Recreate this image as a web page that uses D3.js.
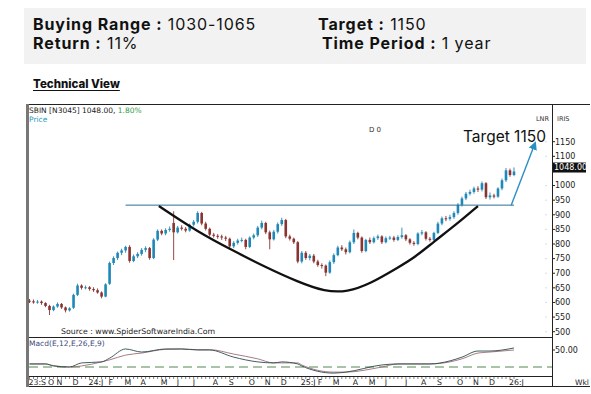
<!DOCTYPE html>
<html>
<head>
<meta charset="utf-8">
<script src="https://cdn.jsdelivr.net/npm/d3@7"></script>
<style>
  body { margin: 0; background: #fff; }
  svg { display: block; }
</style>
</head>
<body>
<div id="chart"></div>
<script>
// --- data (weekly SBIN candles) ---
const startWeek = new Date(2023, 8, 18);
const opens = [606,604,600,603,598,588,574,586,595,583,
  573,582,626,658,650,652,646,642,634,620,
  664,735,752,770,778,790,742,758,766,780,
  786,752,815,845,836,848,872,840,856,852,
  846,866,876,906,870,852,832,828,826,822,
  818,792,804,812,814,790,822,830,856,872,
  840,816,842,868,882,826,818,806,740,770,
  752,760,740,728,726,702,738,762,788,782,
  772,806,838,822,776,814,806,820,826,806,
  820,822,814,824,830,816,804,800,836,840,
  818,814,838,870,888,886,892,906,934,956,
  972,978,990,986,1008,960,966,962,990,1018,
  1052,1036];
const closes = [604,600,603,598,588,574,586,595,583,573,
  580,626,658,650,652,646,642,634,620,662,
  735,752,770,778,790,742,758,766,780,786,
  752,815,845,836,848,852,840,856,852,846,
  866,876,906,870,852,832,828,826,822,818,
  792,804,812,814,790,822,830,856,872,840,
  816,842,868,882,826,818,806,740,770,752,
  760,740,728,726,702,738,762,788,782,772,
  806,838,822,776,814,806,820,826,806,820,
  822,814,824,830,816,804,800,836,840,818,
  814,838,870,888,886,892,906,934,956,972,
  978,990,986,1008,960,966,962,990,1018,1052,
  1036,1048];
const highs = [612,610,608,607,601,592,590,600,598,586,
  584,630,664,662,658,656,652,648,638,666,
  740,758,774,784,794,796,764,772,786,792,
  790,820,850,850,854,860,912,862,864,858,
  870,882,912,910,876,856,838,834,832,828,
  822,810,818,822,818,826,836,862,880,876,
  846,848,874,890,886,832,822,810,776,776,
  766,766,746,734,730,744,768,794,796,788,
  812,850,842,826,818,822,826,832,830,826,
  828,828,830,856,834,820,810,840,848,844,
  824,842,876,894,896,900,912,940,962,978,
  986,996,998,1014,1012,976,972,994,1024,1060,
  1058,1062];
const lows = [598,596,596,592,584,557,570,582,578,566,
  569,578,622,644,645,640,636,630,614,618,
  660,728,745,762,770,736,738,752,760,772,
  746,748,810,830,830,842,745,836,846,840,
  842,860,870,864,846,826,822,818,814,810,
  786,786,798,806,782,786,816,824,850,834,
  782,812,836,862,820,812,800,734,734,746,
  744,734,722,716,690,698,732,758,776,764,
  768,800,816,770,772,800,802,814,800,802,
  814,808,810,818,810,798,794,796,830,812,
  808,810,834,864,878,880,886,900,928,950,
  966,972,978,980,954,952,956,958,984,1012,
  1030,1032];

// MACD panel, read at selected weeks
const macdWeeks  = [0,4,6,10,13,18,20,24,28,34,38,42,45,51,57,61,63,67,68,76,79,88,92,100,105,108,112,115,121];
const macdLine   = [9,9,3,0,12,15,26,53,44,53,53,50,50,29,15,12,15,9,3,-18,-15,6,9,9,18,29,47,47,56];
const signalLine = [9,9,4,0,3,15,21,35,41,52,53,51,51,38,24,12,12,12,6,-15,-15,0,9,9,15,24,41,44,50];

const priceTicks = [1150,1100,1000,950,900,850,800,750,700,650,600,550,500];
const monthNames = ["J","F","M","A","M","J","J","A","S","O","N","D"];

// annotations (week index, price)
const resistance = { from: 24, to: 121, value: 933 };
const cupPoints = [[32.3,930],[42.4,838],[50.6,779],[58.9,721],[67.1,670],[73.8,637],[79.4,636],[85.1,664],[91.8,718],[96,752],[101,808],[106.5,866],[112,930]];
const targetArrow = { from: [120.3, 933], to: [126.3, 1146] };

// --- layout ---
const W = 591, H = 394;
const frame = { left: 27, top: 104, axisX: 552, right: 590, mainBottom: 337, macdBottom: 376, bottom: 386 };
const font = "'DejaVu Sans', Verdana, sans-serif";
const headFont = "Inter, 'Open Sans', sans-serif";
const blue = "#1f88b8", red = "#8a3330";

const svg = d3.select("#chart").append("svg")
  .attr("width", W).attr("height", H);

// header box
svg.append("rect").attr("x", 24).attr("y", 8).attr("width", 562).attr("height", 56).attr("fill", "#f2f2f2");

function headLine(x, y, bold, normal) {
  const t = svg.append("text").attr("x", x).attr("y", y)
    .style("font-family", headFont).style("font-size", "16px").style("letter-spacing", "0.9px").attr("fill", "#111");
  t.append("tspan").style("font-weight", 700).text(bold);
  t.append("tspan").style("font-weight", 400).text(normal);
}
headLine(33, 30, "Buying Range :", " 1030-1065");
headLine(318, 30, "Target :", "  1150");
headLine(33, 49, "Return :", " 11%");
headLine(322, 49, "Time Period :", " 1 year");

const tv = svg.append("text").attr("x", 33).attr("y", 88)
  .style("font-family", headFont).style("font-size", "11.5px").style("font-weight", 800)
  .attr("fill", "#111").text("Technical View");
const tvw = tv.node().getComputedTextLength();
svg.append("line").attr("x1", 33).attr("x2", 33 + tvw).attr("y1", 90.5).attr("y2", 90.5)
  .attr("stroke", "#111").attr("stroke-width", 1.2);

// --- scales ---
const n = closes.length;
const x = d3.scaleLinear().domain([0, n - 1]).range([29.5, 514]);
const y = d3.scaleLinear().domain([500, 1150]).range([331.7, 141.7]);
const yM = d3.scaleLinear().domain([0, 50]).range([367, 350]);

// --- frame ---
const fr = svg.append("g").attr("stroke", "#222").attr("stroke-width", 1).attr("fill", "none");
fr.append("line").attr("x1", frame.left).attr("x2", frame.right).attr("y1", frame.top + 0.5).attr("y2", frame.top + 0.5);
fr.append("line").attr("x1", frame.left).attr("x2", frame.right).attr("y1", frame.bottom + 0.5).attr("y2", frame.bottom + 0.5);
fr.append("line").attr("x1", frame.left).attr("x2", frame.axisX).attr("y1", frame.mainBottom + 0.5).attr("y2", frame.mainBottom + 0.5);
fr.append("line").attr("x1", frame.left).attr("x2", frame.axisX).attr("y1", frame.macdBottom + 0.5).attr("y2", frame.macdBottom + 0.5);
fr.append("line").attr("x1", frame.axisX + 0.5).attr("x2", frame.axisX + 0.5).attr("y1", frame.top).attr("y2", frame.bottom);
svg.append("line").attr("x1", frame.left + 0.5).attr("x2", frame.left + 0.5).attr("y1", frame.top).attr("y2", frame.bottom + 1)
  .attr("stroke", "#777").attr("stroke-width", 3);

// --- titles inside ---
const t1 = svg.append("text").attr("x", 29).attr("y", 113).style("font-family", font).style("font-size", "7.5px").attr("fill", "#222");
t1.append("tspan").text("SBIN [N3045] 1048.00, ");
t1.append("tspan").attr("fill", "#3a9a4a").text(" 1.80%");
svg.append("text").attr("x", 29).attr("y", 122).style("font-family", font).style("font-size", "7.5px").attr("fill", "#2a9ab8").text("Price");
svg.append("text").attr("x", 369).attr("y", 132).style("font-family", font).style("font-size", "7px").attr("fill", "#333").text("D 0");
svg.append("text").attr("x", 536).attr("y", 121).style("font-family", font).style("font-size", "6.5px").attr("fill", "#333").text("LNR");
svg.append("text").attr("x", 557).attr("y", 121).style("font-family", font).style("font-size", "6.5px").attr("fill", "#333").text("IRIS");

// --- price axis ---
const ax = svg.append("g").style("font-family", font).style("font-size", "8px");
priceTicks.forEach(v => {
  ax.append("line").attr("x1", frame.axisX).attr("x2", frame.axisX + 3).attr("y1", y(v)).attr("y2", y(v)).attr("stroke", "#222");
  ax.append("line").attr("x1", frame.axisX - 7).attr("x2", frame.axisX - 5).attr("y1", y(v)).attr("y2", y(v)).attr("stroke", "#ddd");
  ax.append("text").attr("x", frame.axisX + 3).attr("y", y(v)).attr("dy", "0.35em").attr("fill", "#222").text(v);
});
const last = closes[n - 1];
ax.append("rect").attr("x", frame.axisX + 1).attr("y", y(last) - 9).attr("width", 33).attr("height", 10).attr("fill", "#111");
ax.append("text").attr("x", frame.axisX + 2).attr("y", y(last) - 4).attr("dy", "0.35em").attr("fill", "#fff").text(last.toFixed(2));

// --- candles ---
const cw = 2.6;
const cg = svg.append("g");
d3.range(n).forEach(i => {
  const up = closes[i] >= opens[i];
  const col = up ? blue : red;
  cg.append("line").attr("x1", x(i)).attr("x2", x(i)).attr("y1", y(highs[i])).attr("y2", y(lows[i]))
    .attr("stroke", col).attr("stroke-width", 0.9);
  const top = y(Math.max(opens[i], closes[i])), bot = y(Math.min(opens[i], closes[i]));
  cg.append("rect").attr("x", x(i) - cw / 2).attr("y", top).attr("width", cw).attr("height", Math.max(1, bot - top))
    .attr("fill", col);
});

// --- annotations ---
svg.append("line").attr("x1", x(resistance.from)).attr("x2", x(resistance.to))
  .attr("y1", y(resistance.value)).attr("y2", y(resistance.value))
  .attr("stroke", "#2a6f95").attr("stroke-width", 1);

svg.append("path").datum(cupPoints)
  .attr("d", d3.line().x(d => x(d[0])).y(d => y(d[1])).curve(d3.curveBasis))
  .attr("fill", "none").attr("stroke", "#111").attr("stroke-width", 2.3);

svg.append("defs").append("marker").attr("id", "ah").attr("viewBox", "0 0 10 10")
  .attr("refX", 8).attr("refY", 5).attr("markerWidth", 6).attr("markerHeight", 6).attr("orient", "auto")
  .append("path").attr("d", "M0,0 L10,5 L0,10 z").attr("fill", "#2a8fc4");
svg.append("line")
  .attr("x1", x(targetArrow.from[0])).attr("y1", y(targetArrow.from[1]))
  .attr("x2", x(targetArrow.to[0])).attr("y2", y(targetArrow.to[1]))
  .attr("stroke", "#2a8fc4").attr("stroke-width", 1.4).attr("marker-end", "url(#ah)");

svg.append("text").attr("x", 463).attr("y", 142).style("font-family", headFont).style("font-size", "15.5px")
  .attr("fill", "#111").text("Target 1150");

svg.append("text").attr("x", 61).attr("y", 334).style("font-family", font).style("font-size", "7.8px")
  .attr("fill", "#222").text("Source : www.SpiderSoftwareIndia.Com");

// --- MACD panel ---
svg.append("text").attr("x", 29).attr("y", 346).style("font-family", font).style("font-size", "7.5px")
  .attr("fill", "#3b4a7a").text("Macd(E,12,E,26,E,9)");
svg.append("line").attr("x1", frame.left + 2).attr("x2", frame.axisX).attr("y1", yM(0)).attr("y2", yM(0))
  .attr("stroke", "#8db08d").attr("stroke-width", 1.3).attr("stroke-dasharray", "9,5");
const mline = d3.line().x(d => x(d[0])).y(d => yM(d[1])).curve(d3.curveMonotoneX);
svg.append("path").datum(macdWeeks.map((w, i) => [w, signalLine[i]]))
  .attr("d", mline).attr("fill", "none").attr("stroke", "#9a6f78").attr("stroke-width", 0.9);
svg.append("path").datum(macdWeeks.map((w, i) => [w, macdLine[i]]))
  .attr("d", mline).attr("fill", "none").attr("stroke", "#2f4a4a").attr("stroke-width", 0.9);
svg.append("line").attr("x1", frame.axisX).attr("x2", frame.axisX + 3).attr("y1", yM(50)).attr("y2", yM(50)).attr("stroke", "#222");
svg.append("text").attr("x", frame.axisX + 3).attr("y", yM(50)).attr("dy", "0.35em")
  .style("font-family", font).style("font-size", "8px").attr("fill", "#222").text("50.00");

// --- time axis ---
const dates = d3.range(n).map(i => d3.timeWeek.offset(startWeek, i));
const tg = svg.append("g").style("font-family", font).style("font-size", "7.8px").attr("fill", "#222");
d3.range(n).forEach(i => {
  tg.append("line").attr("x1", x(i)).attr("x2", x(i)).attr("y1", frame.macdBottom + 1).attr("y2", frame.macdBottom + 3)
    .attr("stroke", "#666").attr("stroke-width", 0.8);
});
let prevEnd = 0;
dates.forEach((d, i) => {
  if (i > 0 && d.getMonth() === dates[i - 1].getMonth()) return;
  const m = monthNames[d.getMonth()];
  const label = (i === 0 || d.getMonth() === 0) ? d3.timeFormat("%y")(d) + ":" + m : m;
  const lx = Math.max(x(i) - 1, prevEnd + 2);
  const t = tg.append("text").attr("x", lx).attr("y", 384.5).text(label);
  prevEnd = lx + t.node().getComputedTextLength();
});
svg.append("text").attr("x", 575).attr("y", 384.5).style("font-family", font).style("font-size", "7.5px")
  .attr("fill", "#222").text("Wkl");
</script>
</body>
</html>
